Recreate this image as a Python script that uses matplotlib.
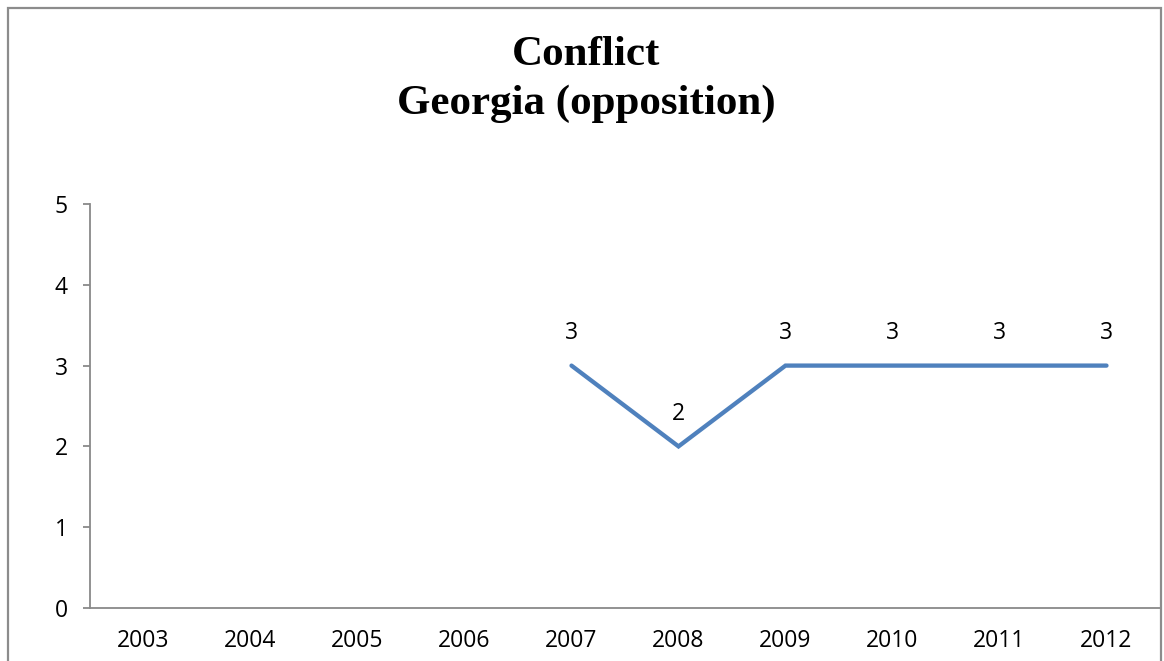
import matplotlib
matplotlib.use("Agg")
import matplotlib.pyplot as plt
from matplotlib.patches import Rectangle

years = ["2003", "2004", "2005", "2006", "2007", "2008", "2009", "2010", "2011", "2012"]
values = [None, None, None, None, 3, 2, 3, 3, 3, 3]
title_lines = ["Conflict", "Georgia (opposition)"]
y_ticks = [0, 1, 2, 3, 4, 5]

label_font = "Open Sans"
label_size = 16.5
axis_grey = "#898989"
line_blue = "#4F81BD"

fig = plt.figure(figsize=(11.64, 6.61), dpi=100)
fig.patch.set_facecolor("white")

# chart frame
fig.add_artist(Rectangle((8 / 1164, -0.01), 1153 / 1164, 1 - 7.5 / 661 + 0.01,
                         transform=fig.transFigure, fill=False,
                         edgecolor="#8c8c8c", linewidth=1.6))

ax = fig.add_axes([90 / 1164, 1 - 608 / 661, 1070 / 1164, (608 - 204) / 661])

xs = [i for i, v in enumerate(values) if v is not None]
ys = [v for v in values if v is not None]
ax.plot(xs, ys, color=line_blue, linewidth=3.1, solid_capstyle="round",
        solid_joinstyle="miter")

for x, y in zip(xs, ys):
    ax.annotate(str(y), (x, y), xytext=(0, 23.5), textcoords="offset points",
                ha="center", va="center", fontsize=label_size,
                family=label_font, color="black")

ax.set_xlim(-0.5, len(years) - 0.5)
ax.set_ylim(0, 5)
ax.set_xticks(range(len(years)))
ax.set_xticklabels(years)
ax.set_yticks(y_ticks)

for side in ("top", "right"):
    ax.spines[side].set_visible(False)
for side in ("left", "bottom"):
    ax.spines[side].set_color(axis_grey)
    ax.spines[side].set_linewidth(1.3)

ax.tick_params(axis="y", length=5, width=1.3, color=axis_grey, pad=11,
               labelsize=label_size)
ax.tick_params(axis="x", length=0, pad=15, labelsize=label_size)
for lbl in ax.get_xticklabels() + ax.get_yticklabels():
    lbl.set_family(label_font)

fig.text(586 / 1164, 1 - 55 / 661, title_lines[0], ha="center", va="center",
         family="Liberation Serif", fontweight="bold", fontsize=31)
fig.text(586 / 1164, 1 - 104 / 661, title_lines[1], ha="center", va="center",
         family="Liberation Serif", fontweight="bold", fontsize=31)

fig.savefig("out.png", dpi=100, facecolor="white")
